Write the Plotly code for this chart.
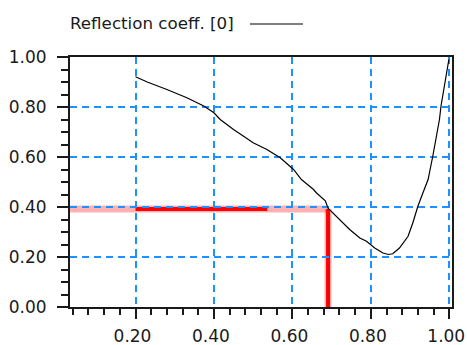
import plotly.graph_objects as go

# Reflection coefficient curve
freq = [0.200, 0.230, 0.280, 0.331, 0.374, 0.400, 0.416, 0.450, 0.500, 0.535,
        0.569, 0.603, 0.623, 0.654, 0.661, 0.684, 0.691, 0.711, 0.746, 0.772,
        0.789, 0.810, 0.831, 0.845, 0.856, 0.873, 0.895, 0.907, 0.920, 0.933,
        0.946, 0.958, 0.975, 0.979, 0.983, 0.992, 0.996, 0.999]
refl = [0.921, 0.900, 0.870, 0.837, 0.804, 0.777, 0.750, 0.710, 0.657, 0.630,
        0.597, 0.550, 0.510, 0.470, 0.457, 0.425, 0.395, 0.363, 0.310, 0.276,
        0.263, 0.236, 0.216, 0.210, 0.213, 0.236, 0.283, 0.336, 0.403, 0.457,
        0.510, 0.603, 0.750, 0.804, 0.844, 0.937, 0.977, 0.990]

# Read-off point marked in red
mark_x = 0.691
mark_y = 0.392
mark_solid = [0.20, 0.536]   # strong part of the horizontal marker

x_ticks = [0.2, 0.4, 0.6, 0.8, 1.0]
x_labels = ["0.20", "0.40", "0.60", "0.80", "1.00"]
y_ticks = [0.0, 0.2, 0.4, 0.6, 0.8, 1.0]
y_labels = ["0.00", "0.20", "0.40", "0.60", "0.80", "1.00"]
x_range = [0.033, 1.007]
y_range = [0.0, 1.0]

legend_text = "Reflection coeff. [0]"

W, H = 467, 345
ML, MR, MT, MB = 70, 15, 57, 38
plot_h = H - MT - MB
plot_w = W - ML - MR


def py(p):
    """pixel row -> paper y"""
    return 1 + (MT - p) / plot_h


def px(p):
    """pixel column -> paper x"""
    return (p - ML) / plot_w


FONT = "DejaVu Sans"
INK = "#1a1a1a"
GRID = "rgb(30,144,255)"

fig = go.Figure()
fig.add_trace(go.Scatter(x=freq, y=refl, mode="lines",
                         line=dict(color="black", width=1.2),
                         showlegend=False, hoverinfo="skip"))

pale = "rgba(255,60,60,0.4)"
shapes = [
    # soft halo of the marker lines
    dict(type="line", xref="x", yref="y", x0=x_range[0], x1=mark_x,
         y0=mark_y, y1=mark_y, line=dict(color=pale, width=7), layer="below"),
    dict(type="line", xref="x", yref="y", x0=mark_x, x1=mark_x,
         y0=y_range[0], y1=mark_y, line=dict(color=pale, width=7), layer="below"),
    # solid marker lines
    dict(type="line", xref="x", yref="y", x0=mark_solid[0], x1=mark_solid[1],
         y0=mark_y, y1=mark_y, line=dict(color="red", width=4), layer="below"),
    dict(type="line", xref="x", yref="y", x0=mark_x, x1=mark_x,
         y0=y_range[0], y1=mark_y, line=dict(color="red", width=4), layer="below"),
    # legend sample line
    dict(type="line", xref="paper", yref="paper", x0=px(250), x1=px(303),
         y0=py(24), y1=py(24), line=dict(color="black", width=1.2)),
]

fig.update_layout(
    width=W, height=H,
    margin=dict(l=ML, r=MR, t=MT, b=MB, pad=0, autoexpand=False),
    paper_bgcolor="white", plot_bgcolor="white",
    font=dict(family=FONT, color=INK, size=17),
    showlegend=False,
    shapes=shapes,
    annotations=[dict(text=legend_text, xref="paper", yref="paper",
                      x=px(68), y=py(22.5), xanchor="left", yanchor="middle",
                      showarrow=False, font=dict(family=FONT, size=16.7, color=INK))],
)

fig.update_xaxes(
    range=x_range, tickvals=x_ticks, ticktext=x_labels, automargin=False,
    showline=True, linecolor=INK, linewidth=2, mirror=True,
    ticks="outside", ticklen=10, tickwidth=2, tickcolor=INK,
    ticklabelstandoff=3, ticklabelshift=-3, ticklabeloverflow="allow",
    showgrid=True, gridcolor=GRID, gridwidth=2, griddash="7px,5px",
    zeroline=False,
    minor=dict(dtick=0.04, tick0=0, ticks="outside", ticklen=6,
               tickwidth=2, tickcolor=INK, showgrid=False),
    tickfont=dict(family=FONT, size=17, color=INK),
)
fig.update_yaxes(
    range=y_range, tickvals=y_ticks, ticktext=y_labels, automargin=False,
    showline=True, linecolor=INK, linewidth=2, mirror=True,
    ticks="outside", ticklen=11, tickwidth=2, tickcolor=INK,
    ticklabelstandoff=7,
    showgrid=True, gridcolor=GRID, gridwidth=2, griddash="7px,5px",
    zeroline=False,
    minor=dict(dtick=0.05, tick0=0, ticks="outside", ticklen=7,
               tickwidth=2, tickcolor=INK, showgrid=False),
    tickfont=dict(family=FONT, size=17, color=INK),
)

fig.write_html("out.html")
